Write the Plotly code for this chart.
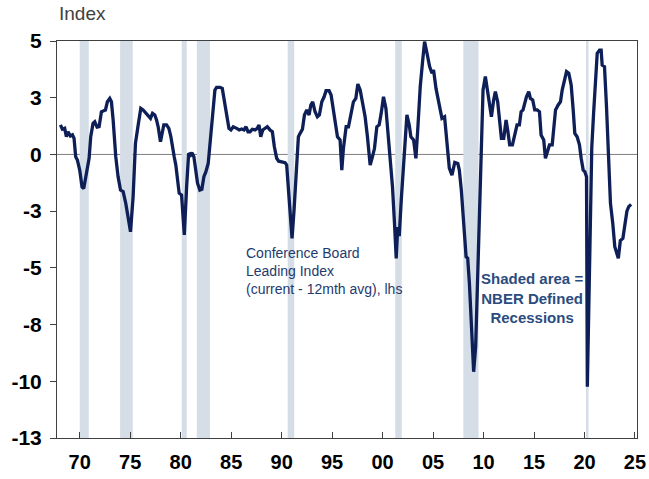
import plotly.graph_objects as go

# ---- data (decimal years, index values) ----
years = [
1968.09,1968.28,1968.51,1968.68,1968.84,1969.08,1969.28,1969.44,1969.60,1969.77,
1970.00,1970.23,1970.40,1970.66,1970.93,1971.09,1971.32,1971.49,1971.72,1971.92,
1972.15,1972.38,1972.55,1972.74,1972.98,1973.14,1973.31,1973.57,1973.80,1974.04,
1974.30,1974.56,1974.80,1975.03,1975.29,1975.52,1975.79,1976.05,1976.28,1976.55,
1976.78,1977.01,1977.21,1977.44,1977.61,1977.77,1978.00,1978.20,1978.33,1978.60,
1978.83,1979.03,1979.20,1979.36,1979.52,1979.66,1979.85,1980.09,1980.25,1980.36,
1980.59,1980.79,1980.98,1981.11,1981.31,1981.48,1981.67,1981.90,1982.10,1982.30,
1982.50,1982.73,1982.90,1983.16,1983.39,1983.56,1983.89,1984.12,1984.32,1984.55,
1984.78,1984.98,1985.21,1985.55,1985.80,1986.04,1986.27,1986.47,1986.67,1986.87,
1987.10,1987.36,1987.59,1987.76,1987.93,1988.13,1988.35,1988.58,1988.85,1989.08,
1989.28,1989.51,1989.71,1990.00,1990.34,1990.50,1990.67,1990.83,1991.03,1991.23,
1991.43,1991.66,1991.83,1992.06,1992.26,1992.49,1992.72,1992.89,1993.08,1993.31,
1993.54,1993.74,1993.98,1994.21,1994.40,1994.70,1994.90,1995.07,1995.30,1995.53,
1995.79,1995.96,1996.12,1996.39,1996.62,1996.85,1997.11,1997.35,1997.55,1997.78,
1998.01,1998.27,1998.50,1998.77,1999.00,1999.20,1999.43,1999.66,1999.86,2000.09,
2000.33,2000.52,2000.75,2000.98,2001.18,2001.35,2001.50,2001.65,2001.85,2002.05,
2002.25,2002.41,2002.64,2002.80,2003.07,2003.30,2003.50,2003.73,2003.96,2004.16,
2004.40,2004.66,2004.89,2005.05,2005.29,2005.55,2005.71,2005.88,2006.14,2006.38,
2006.61,2006.87,2007.15,2007.45,2007.60,2007.80,2008.03,2008.27,2008.43,2008.60,
2008.79,2009.02,2009.22,2009.42,2009.61,2009.81,2009.95,2010.18,2010.35,2010.51,
2010.78,2011.00,2011.17,2011.40,2011.60,2011.77,2012.00,2012.23,2012.39,2012.59,
2012.86,2013.09,2013.32,2013.55,2013.72,2013.91,2014.08,2014.25,2014.48,2014.64,
2014.87,2015.07,2015.31,2015.54,2015.70,2015.96,2016.13,2016.30,2016.53,2016.80,
2016.96,2017.13,2017.39,2017.62,2017.79,2018.02,2018.22,2018.44,2018.68,2018.88,
2019.04,2019.27,2019.50,2019.67,2019.87,2020.03,2020.20,2020.28,2020.45,2020.60,
2020.72,2020.90,2021.09,2021.26,2021.49,2021.65,2021.75,2021.98,2022.18,2022.41,
2022.57,2022.80,2023.00,2023.35,2023.55,2023.80,2024.00,2024.20,2024.38,2024.62,
]
values = [
1.30,1.11,1.15,0.78,1.00,0.81,0.86,0.71,-0.10,-0.25,
-0.69,-1.43,-1.50,-0.83,-0.17,0.78,1.37,1.44,1.20,1.22,
1.88,1.93,1.96,2.32,2.47,2.32,1.52,-0.10,-0.98,-1.57,
-1.64,-2.15,-2.89,-3.41,-1.86,0.49,1.30,2.03,1.96,1.81,
1.74,1.59,1.81,1.74,1.52,1.22,0.56,1.08,1.30,1.30,
1.15,0.78,0.20,-0.10,-0.47,-0.98,-1.71,-1.79,-2.74,-3.55,
-1.42,0.05,-0.03,0.08,-0.10,-0.76,-1.27,-1.57,-1.54,-0.98,
-0.76,-0.39,0.49,1.81,2.84,2.96,2.96,2.91,2.32,1.74,
1.15,1.08,1.22,1.15,1.08,1.12,1.08,1.22,1.00,1.00,
1.11,1.08,1.15,1.30,0.78,1.08,1.15,1.22,1.08,1.00,
0.34,-0.17,-0.30,-0.32,-0.36,-0.47,-1.57,-2.89,-3.70,-2.45,
-0.83,0.78,0.93,1.11,1.74,1.96,1.74,2.18,2.32,1.88,
1.66,1.74,2.32,2.54,2.81,2.81,2.62,2.10,1.37,0.78,
0.64,-0.69,0.27,1.22,1.22,1.74,2.32,2.47,3.10,2.84,
2.32,1.66,0.78,-0.47,-0.10,0.27,1.22,1.30,1.81,2.54,
2.03,1.08,-0.03,-1.42,-3.04,-4.58,-3.20,-3.60,-2.00,-0.50,
1.00,1.74,1.30,0.78,0.64,-0.17,1.22,2.99,4.09,4.97,
4.46,3.87,3.58,3.72,2.91,2.32,2.10,1.59,1.66,0.30,
-0.60,-0.91,-0.35,-0.40,-0.69,-1.57,-3.00,-4.51,-4.58,-5.68,
-7.44,-9.58,-8.47,-5.54,-2.30,0.64,2.84,3.43,2.91,2.25,
1.66,2.40,2.77,2.32,1.22,0.71,0.71,1.52,1.08,0.42,
0.42,0.93,1.30,1.30,1.88,1.96,2.32,2.54,2.77,2.47,
2.40,1.96,1.96,1.88,0.86,0.64,-0.17,0.05,0.42,0.42,
1.15,1.96,2.18,2.32,2.84,3.36,3.65,3.58,3.06,1.96,
0.93,0.78,0.42,-0.17,-0.69,-0.76,-0.98,-10.24,-5.24,-2.30,
0.30,1.81,3.58,4.46,4.60,4.60,3.94,3.87,2.10,-0.10,
-2.15,-3.04,-4.07,-4.58,-3.80,-3.70,-3.20,-2.50,-2.30,-2.20,
]

# NBER recession periods (start, end)
rec_start = [1970.0, 1974.0, 1980.1, 1981.6, 1990.6, 2001.25, 2008.0, 2020.15]
rec_end   = [1970.9, 1975.25, 1980.6, 1982.9, 1991.25, 2001.9, 2009.5, 2020.4]

# axis ticks
x_tickvals = [1970, 1975, 1980, 1985, 1990, 1995, 2000, 2005, 2010, 2015, 2020, 2025]
x_ticktext = ["70", "75", "80", "85", "90", "95", "00", "05", "10", "15", "20", "25"]
y_tickvals = [5, 2.5, 0, -2.5, -5, -7.5, -10, -12.5]
y_ticktext = ["5", "3", "0", "-3", "-5", "-8", "-10", "-13"]

FONT = "Liberation Sans, Arial, sans-serif"

fig = go.Figure()

shapes = []
for s, e in zip(rec_start, rec_end):
    shapes.append(dict(type="rect", xref="x", yref="y", x0=s, x1=e, y0=-12.5, y1=5,
                       fillcolor="#d5dde7", line=dict(width=0), layer="below"))
# zero line
shapes.append(dict(type="line", xref="paper", yref="y", x0=0, x1=1, y0=0, y1=0,
                   line=dict(color="#7f7f7f", width=1), layer="below"))

fig.add_trace(go.Scatter(x=years, y=values, mode="lines",
                         line=dict(color="#0d1f56", width=3.3), hoverinfo="skip",
                         showlegend=False))

fig.update_layout(
    width=649, height=479,
    margin=dict(l=57, r=12, t=41, b=41),
    paper_bgcolor="white", plot_bgcolor="white",
    font=dict(family=FONT, color="black"),
    shapes=shapes,
    showlegend=False,
    xaxis=dict(range=[1967.75, 2025.2], tickvals=x_tickvals, ticktext=x_ticktext,
               showgrid=False, zeroline=False, showline=True, linecolor="#404040",
               linewidth=1, mirror=True, ticks="inside", ticklen=6, tickcolor="#404040",
               tickfont=dict(family=FONT, size=20, color="black", weight="bold"),
               ticklabelstandoff=6, automargin=False),
    yaxis=dict(range=[-12.5, 5], tickvals=y_tickvals, ticktext=y_ticktext,
               showgrid=False, zeroline=False, showline=True, linecolor="#404040",
               linewidth=1, mirror=True, ticks="outside", ticklen=6, tickcolor="#404040",
               tickfont=dict(family=FONT, size=21, color="black", weight="bold"),
               ticklabelstandoff=4, automargin=False),
    annotations=[
        dict(text="Index", xref="paper", yref="paper", x=0, y=1.0705,
             xanchor="left", yanchor="middle", showarrow=False,
             font=dict(family=FONT, size=19, color="#404040")),
        dict(text="Conference Board<br>Leading Index<br>(current - 12mth avg), lhs",
             xref="x", yref="y", x=1986.27, y=-5.12, xanchor="left", yanchor="middle",
             align="left", showarrow=False,
             font=dict(family=FONT, size=14, color="#1f3a6e")),
        dict(text="Shaded area =<br>NBER Defined<br>Recessions",
             xref="x", yref="y", x=2014.84, y=-6.35, xanchor="center", yanchor="middle",
             align="center", showarrow=False,
             font=dict(family=FONT, size=15, color="#2b4c7e", weight="bold")),
    ],
)

fig.write_html("out.html", config={"displayModeBar": False},
               post_script="document.body.style.margin='0px';document.body.style.overflow='hidden';")
